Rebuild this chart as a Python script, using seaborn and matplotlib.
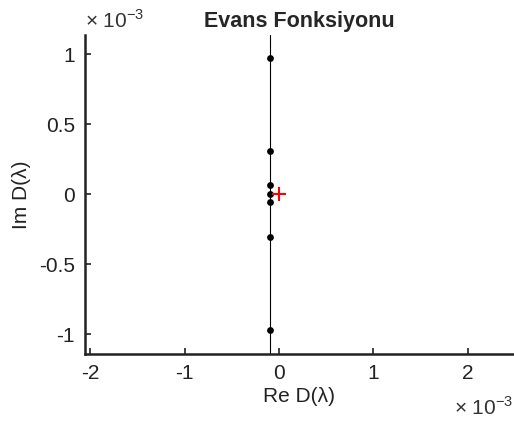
import matplotlib
matplotlib.use("Agg")
import matplotlib.pyplot as plt
import seaborn as sns
import pandas as pd

# Evans function zeros (units of 1e-3)
re_vals = [-0.095, -0.095, -0.095, -0.095, -0.095, -0.095, -0.095]
im_vals = [0.974, 0.307, 0.064, 0.0, -0.059, -0.307, -0.974]
curve_re = [-0.095, -0.095]
curve_im = [-1.14, 1.14]
origin_re = [0.0]
origin_im = [0.0]

x_ticks = [-2, -1, 0, 1, 2]
y_ticks = [-1, -0.5, 0, 0.5, 1]

sns.set_style("white")
plt.rcParams["font.family"] = ["Liberation Sans", "DejaVu Sans"]
plt.rcParams["axes.unicode_minus"] = False

df = pd.DataFrame({"re": re_vals, "im": im_vals})

fig = plt.figure(figsize=(5.14, 4.23), dpi=100)
ax = fig.add_axes([0.165, 0.163, 0.835, 0.754])

ax.plot(curve_re, curve_im, color="black", lw=0.8, zorder=1)
sns.scatterplot(data=df, x="re", y="im", color="black", s=24, edgecolor="black",
                linewidth=0, ax=ax, zorder=3)
ax.plot(origin_re, origin_im, marker="+", color="red", ms=10, mew=1.5, ls="none", zorder=4)

ax.set_xlim(-2.06, 2.49)
ax.set_ylim(-1.143, 1.136)
ax.set_xticks(x_ticks)
ax.set_yticks(y_ticks)
ax.set_xticklabels([str(t) for t in x_ticks])
ax.set_yticklabels(["-1", "-0.5", "0", "0.5", "1"])
ax.tick_params(direction="in", length=4, width=1.2, labelsize=15, colors="#222222",
               pad=7, bottom=True, left=True)
for side in ["top", "right"]:
    ax.spines[side].set_visible(False)
for side in ["left", "bottom"]:
    ax.spines[side].set_linewidth(1.8)
    ax.spines[side].set_color("#222222")

ax.set_xlabel("Re D(λ)", fontsize=15, color="#222222", labelpad=3)
ax.set_ylabel("Im D(λ)", fontsize=15, color="#222222", labelpad=6)
ax.set_title("Evans Fonksiyonu", fontsize=15.5, fontweight="bold", pad=6)

offset_label = r"× 10$^{\mathregular{-3}}$"
fig.text(0.165, 0.925, offset_label, fontsize=15, color="#333333",
         ha="left", va="bottom")
fig.text(0.998, 0.01, offset_label, fontsize=15, color="#333333",
         ha="right", va="bottom")

fig.savefig("out.png", dpi=100)
